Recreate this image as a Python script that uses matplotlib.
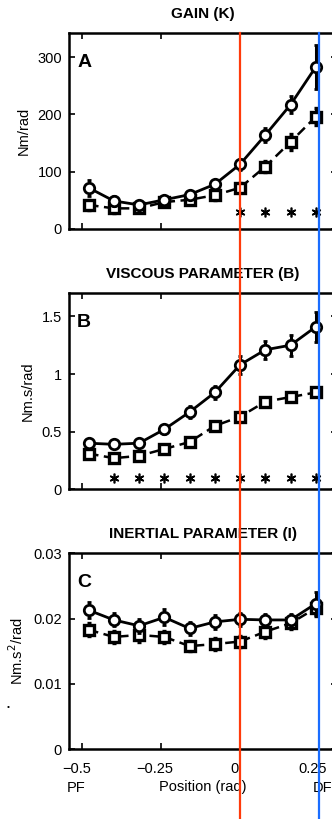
import matplotlib
matplotlib.use("Agg")
import matplotlib.pyplot as plt
import matplotlib.transforms as mtransforms
from matplotlib.lines import Line2D
import numpy as np

plt.rcParams['font.family'] = ['Liberation Sans', 'DejaVu Sans']
plt.rcParams['axes.unicode_minus'] = True

# joint position (rad)
position = [-0.48, -0.40, -0.32, -0.24, -0.16, -0.08, 0.0, 0.08, 0.16, 0.24]

# gain K (Nm/rad)
gain_solid = [72, 49, 42, 51, 60, 78, 113, 164, 217, 283]
gain_solid_err = [14, 8, 6, 6, 7, 8, 10, 12, 15, 38]
gain_dash = [42, 36, 36, 47, 51, 59, 72, 109, 152, 196]
gain_dash_err = [8, 8, 7, 6, 7, 8, 8, 10, 14, 15]
gain_star_x = [0.0, 0.08, 0.16, 0.24]
gain_star_y = [30, 30, 30, 30]

# viscous parameter B (Nm.s/rad)
visc_solid = [0.40, 0.39, 0.40, 0.52, 0.67, 0.84, 1.08, 1.21, 1.25, 1.41]
visc_solid_err = [0.04, 0.03, 0.03, 0.04, 0.05, 0.06, 0.08, 0.08, 0.09, 0.13]
visc_dash = [0.31, 0.27, 0.29, 0.35, 0.41, 0.55, 0.63, 0.76, 0.80, 0.84]
visc_dash_err = [0.03, 0.03, 0.02, 0.02, 0.03, 0.02, 0.03, 0.03, 0.02, 0.03]
visc_star_x = [-0.40, -0.32, -0.24, -0.16, -0.08, 0.0, 0.08, 0.16, 0.24]
visc_star_y = [0.10] * 9

# inertial parameter I (Nm.s^2/rad)
iner_solid = [0.0213, 0.0198, 0.0189, 0.0202, 0.0185, 0.0195, 0.0199, 0.0198, 0.0198, 0.0223]
iner_solid_err = [0.0012, 0.0010, 0.0011, 0.0012, 0.0010, 0.0011, 0.0010, 0.0009, 0.0009, 0.0018]
iner_dash = [0.0183, 0.0172, 0.0175, 0.0172, 0.0158, 0.0161, 0.0165, 0.0180, 0.0193, 0.0216]
iner_dash_err = [0.0010, 0.0009, 0.0010, 0.0009, 0.0008, 0.0009, 0.0008, 0.0010, 0.0009, 0.0012]

xticks = [-0.5, -0.25, 0, 0.25]
xticklabels = ["\u22120.5", "\u22120.25", "0", "0.25"]
red_x = 0.0
blue_x = 0.25

panels = [
    ("GAIN (K)", "A", "Nm/rad", gain_solid, gain_solid_err, gain_dash, gain_dash_err,
     gain_star_x, gain_star_y, (0, 342), [0, 100, 200, 300], ["0", "100", "200", "300"]),
    ("VISCOUS PARAMETER (B)", "B", "Nm.s/rad", visc_solid, visc_solid_err, visc_dash, visc_dash_err,
     visc_star_x, visc_star_y, (0, 1.70), [0, 0.5, 1, 1.5], ["0", "0.5", "1", "1.5"]),
    ("INERTIAL PARAMETER (I)", "C", "Nm.s$^2$/rad", iner_solid, iner_solid_err, iner_dash, iner_dash_err,
     [], [], (0, 0.03), [0, 0.01, 0.02, 0.03], ["0", "0.01", "0.02", "0.03"]),
]

W, H = 332, 819
fig = plt.figure(figsize=(W / 100, H / 100), dpi=100)
fs = 10.5

tops = [33, 293.3, 553.3]
axes = []
for i, (title, letter, ylab, ys, yse, yd, yde, sx, sy, ylim, yt, ytl) in enumerate(panels):
    top = tops[i]
    ax = fig.add_axes([69 / W, 1 - (top + 196) / H, 268 / W, 196 / H])
    axes.append(ax)
    ax.errorbar(position, yd, yerr=yde, color='black', lw=1.8, ls=(0, (4, 2.2)),
                marker='s', ms=6.5, mfc='white', mec='black', mew=2.4,
                elinewidth=2.2, capsize=1.5, capthick=1.5, zorder=3)
    ax.errorbar(position, ys, yerr=yse, color='black', lw=2.0, ls='-',
                marker='o', ms=7.5, mfc='white', mec='black', mew=2.0,
                elinewidth=2.2, capsize=1.5, capthick=1.5, zorder=4)
    if sx:
        ax.plot(sx, sy, ls='none', marker=(6, 2, 0), ms=7, color='black', mew=1.2)
    ax.set_xlim(-0.542, 0.307)
    ax.set_ylim(*ylim)
    ax.set_xticks(xticks)
    ax.set_yticks(yt)
    ax.set_yticklabels(ytl)
    ax.tick_params(direction='in', length=4.5, width=1.2, top=True, right=True,
                   labelsize=fs, color='black')
    ax.tick_params(axis='y', pad=5)
    ax.tick_params(axis='x', pad=9)
    for s in ax.spines.values():
        s.set_linewidth(1.8)
    ax.set_title(title, fontsize=fs + 0.5, fontweight='bold', pad=11)
    ax.set_ylabel(ylab, fontsize=fs, labelpad=5)
    ax.text(0.03, 0.895, letter, transform=ax.transAxes, fontsize=14,
            fontweight='bold', va='top', ha='left')
    if i < 2:
        ax.set_xticklabels([])
    else:
        ax.set_xticklabels(xticklabels)
        shift = mtransforms.ScaledTranslation(-6 / 100, 0, fig.dpi_scale_trans)
        for lbl in ax.get_xticklabels():
            lbl.set_transform(lbl.get_transform() + shift)
        ax.set_xlabel("Position (rad)", fontsize=fs, labelpad=3)
        tr = mtransforms.blended_transform_factory(ax.transData, ax.transAxes)
        ax.text(-0.52, -0.2, "PF", transform=tr, ha='center', va='center', fontsize=fs)
        ax.text(0.26, -0.2, "DF", transform=tr, ha='center', va='center', fontsize=fs)

# vertical reference lines overlaid across all panels
top_frac = 1 - 33 / H
for xv, col in [(red_x, '#ff3a0a'), (blue_x, '#1a6dff')]:
    tr = mtransforms.blended_transform_factory(axes[0].transData, fig.transFigure)
    fig.add_artist(Line2D([xv, xv], [0, top_frac], transform=tr, color=col, lw=1.6, zorder=10))

fig.text(8 / W, 1 - 708 / H, "\u2022", fontsize=6, ha='center', va='center')

fig.savefig("out.png", dpi=100)
